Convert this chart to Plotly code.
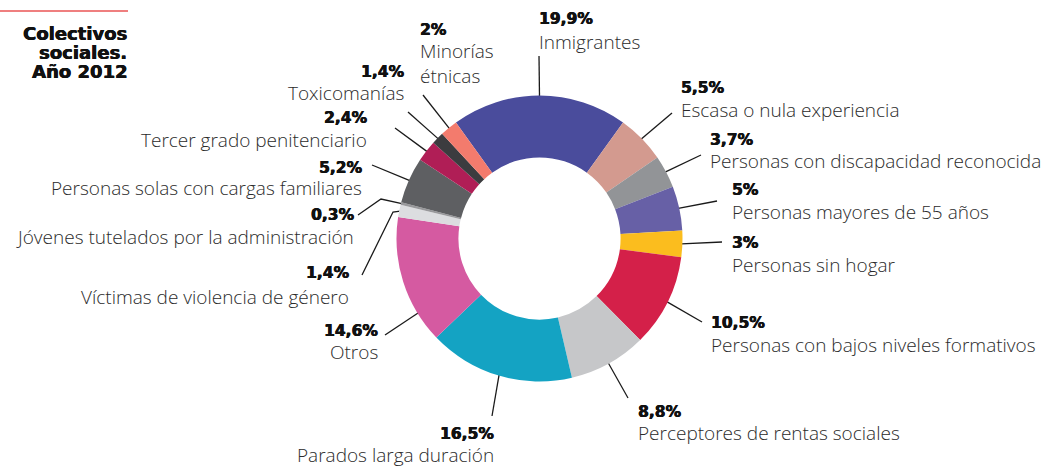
import math
import plotly.graph_objects as go

# ---- data -------------------------------------------------------------
categories = [
    "Inmigrantes", "Escasa o nula experiencia", "Personas con discapacidad reconocida",
    "Personas mayores de 55 años", "Personas sin hogar", "Personas con bajos niveles formativos",
    "Perceptores de rentas sociales", "Parados larga duración", "Otros",
    "Víctimas de violencia de género", "Jóvenes tutelados por la administración",
    "Personas solas con cargas familiares", "Tercer grado penitenciario", "Toxicomanías",
    "Minorías étnicas",
]
values = [19.9, 5.5, 3.7, 5, 3, 10.5, 8.8, 16.5, 14.6, 1.4, 0.3, 5.2, 2.4, 1.4, 2]
title_lines = ["Colectivos", "sociales.", "Año 2012"]

# ---- styling ----------------------------------------------------------
colors = [
    "#4a4c9c", "#d39a8f", "#929497", "#6760a6", "#fbbd1e", "#d42049",
    "#c6c7c9", "#14a3c3", "#d55aa1", "#dcdde0", "#98989b", "#5e5f62",
    "#b01e56", "#3c3c3f", "#f37b6d",
]
W, H = 1045, 468
CX, CY, R = 539.5, 238.5, 143          # donut centre / outer radius in px
HOLE = 0.567

# label layout: pct x, pct y, name y, anchor, outer leader points, angle override
label_layout = {
    "Inmigrantes": (538, 19, 42, "left", [(539, 56)], None),
    "Escasa o nula experiencia": (680, 88, 110, "left", [(672, 113)], None),
    "Personas con discapacidad reconocida": (709, 140, 161, "left", [(701, 155)], None),
    "Personas mayores de 55 años": (731, 190, 212, "left", [(717, 201)], None),
    "Personas sin hogar": (731, 243, 265, "left", [(722, 242)], None),
    "Personas con bajos niveles formativos": (710, 323, 345, "left", [(702, 322)], None),
    "Perceptores de rentas sociales": (637, 412, 433, "left", [(628, 398)], None),
    "Parados larga duración": (495, 434, 455, "right", [(492, 416)], None),
    "Otros": (379, 331, 352, "right", [(385, 335)], 238.5),
    "Víctimas de violencia de género": (350, 273, 297, "right", [(362, 275), (393, 212)], None),
    "Jóvenes tutelados por la administración": (355, 215, 237, "right", [(358, 215), (381, 199)], None),
    "Personas solas con cargas familiares": (363, 168, 188, "right", [(372, 165)], None),
    "Tercer grado penitenciario": (368, 118, 140, "right", [(395, 128)], None),
    "Toxicomanías": (405, 72, 93, "right", [(408, 112)], None),
    "Minorías étnicas": (419, 30, 63.5, "left", [(423, 95)], None),
}
name_text = {"Minorías étnicas": "Minorías<br>étnicas"}

total = sum(values)
rotation = -values[0] / total * 360 / 2   # first slice centred at 12 o'clock

fig = go.Figure()

fig.add_trace(go.Pie(
    labels=categories, values=values, sort=False, direction="clockwise",
    rotation=rotation, hole=HOLE, textinfo="none", hoverinfo="label+percent",
    marker=dict(colors=colors, line=dict(width=0)),
    domain=dict(x=[(CX - R) / W, (CX + R) / W], y=[1 - (CY + R) / H, 1 - (CY - R) / H]),
    showlegend=False,
))

HEAVY = "0.45px 0 0 #111111, -0.2px 0 0 #111111"
PCT_FONT = dict(family="DejaVu Sans", size=15.5, color="#111111", weight=700, shadow=HEAVY)
NAME_FONT = dict(family="Open Sans", size=19, color="#2b2b2b", weight=300)

annotations = []
cum = 0.0
for cat, v in zip(categories, values):
    mid = rotation + (cum + v / 2) / total * 360
    cum += v
    px, py, ny, anchor, pts, override = label_layout[cat]
    ang = math.radians(override if override is not None else mid)
    inner = (CX + (R - 1) * math.sin(ang), CY - (R - 1) * math.cos(ang))
    path = pts + [inner]
    fig.add_trace(go.Scatter(
        x=[p[0] for p in path], y=[p[1] for p in path], mode="lines",
        line=dict(color="#1a1a1a", width=1.3), hoverinfo="skip", showlegend=False,
    ))
    pct = f"{v:g}".replace(".", ",") + "%"
    annotations.append(dict(x=px, y=py, text=pct, xanchor=anchor, yanchor="middle",
                            showarrow=False, font=PCT_FONT, xref="x", yref="y", borderpad=0))
    annotations.append(dict(x=px, y=ny, text=name_text.get(cat, cat), xanchor=anchor,
                            yanchor="middle", align=anchor, showarrow=False, borderpad=0,
                            font=NAME_FONT, xref="x", yref="y"))

for i, line in enumerate(title_lines):
    annotations.append(dict(x=128, y=33 + 19 * i, text=line, xanchor="right", yanchor="middle",
                            showarrow=False, xref="x", yref="y", borderpad=0,
                            font=dict(family="DejaVu Sans", size=18, color="#111111",
                                      weight=700, shadow=HEAVY)))

fig.update_layout(
    width=W, height=H, margin=dict(l=0, r=0, t=0, b=0),
    paper_bgcolor="white", plot_bgcolor="white",
    xaxis=dict(range=[0, W], visible=False, domain=[0, 1], fixedrange=True),
    yaxis=dict(range=[H, 0], visible=False, domain=[0, 1], fixedrange=True),
    annotations=annotations,
    shapes=[dict(type="line", xref="x", yref="y", x0=0, x1=128, y0=11, y1=11,
                 line=dict(color="#ef7f7f", width=2))],
)

fig.write_html("out.html")
